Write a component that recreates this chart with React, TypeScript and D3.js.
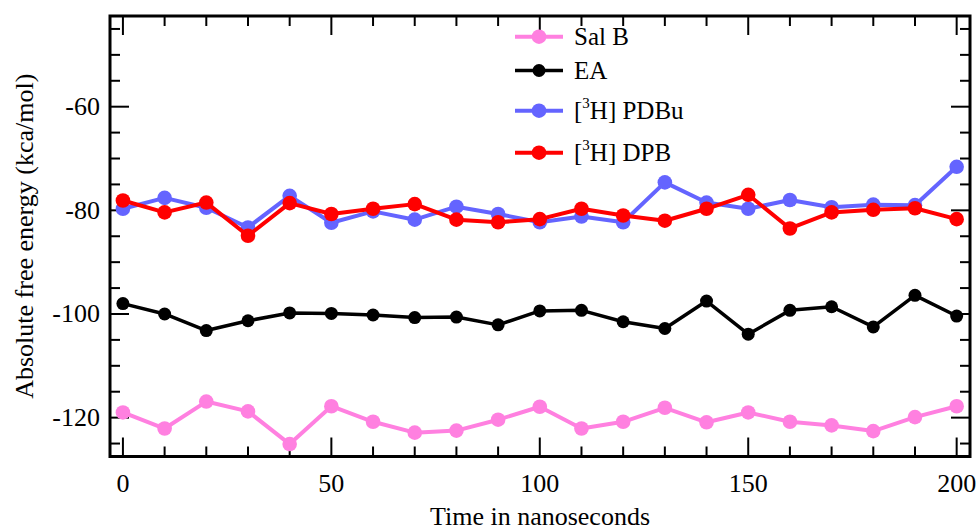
import React from "react";
import * as d3 from "d3";

const times = [0, 10, 20, 30, 40, 50, 60, 70, 80, 90, 100, 110, 120, 130, 140, 150, 160, 170, 180, 190, 200];
const salB = [-119.0, -122.1, -116.9, -118.8, -125.1, -117.8, -120.8, -122.9, -122.5, -120.4, -117.9, -122.1, -120.8, -118.1, -120.9, -119.0, -120.8, -121.5, -122.6, -119.9, -117.8];
const ea = [-98.0, -100.0, -103.2, -101.3, -99.8, -99.9, -100.2, -100.7, -100.6, -102.1, -99.4, -99.3, -101.5, -102.8, -97.5, -103.9, -99.3, -98.6, -102.5, -96.4, -100.4];
const pdbu = [-79.7, -77.6, -79.5, -83.3, -77.2, -82.4, -80.2, -81.8, -79.3, -80.7, -82.3, -81.2, -82.3, -74.6, -78.5, -79.7, -78.0, -79.4, -78.9, -79.0, -71.6];
const dpb = [-78.1, -80.4, -78.5, -84.9, -78.6, -80.7, -79.7, -78.8, -81.8, -82.3, -81.7, -79.7, -81.0, -82.0, -79.7, -77.0, -83.5, -80.4, -79.9, -79.6, -81.7];

const xMajor = [0, 50, 100, 150, 200];
const xMinor = [10, 20, 30, 40, 60, 70, 80, 90, 110, 120, 130, 140, 160, 170, 180, 190];
const yMajor = [-60, -80, -100, -120];
const yMinor = [-45, -50, -55, -65, -70, -75, -85, -90, -95, -105, -110, -115, -125];

const seriesDefs = [
  { name: "Sal B", sup: "", values: salB, color: "#ff80e0", r: 7.3, w: 4 },
  { name: "EA", sup: "", values: ea, color: "#000000", r: 6.5, w: 3.5 },
  { name: " PDBu", sup: "3", values: pdbu, color: "#6464ff", r: 7.3, w: 4 },
  { name: " DPB", sup: "3", values: dpb, color: "#ff0000", r: 7.3, w: 4 },
];

const L = 110, R = 970, T = 16, B = 456.5;
const FONT = "\"Liberation Serif\"";

export default function App() {
  const x = d3.scaleLinear().domain([-3.1, 203.2]).range([L, R]);
  const y = d3.scaleLinear().domain([-127.5, -42.5]).range([B, T]);
  const line = d3.line<[number, number]>().x(d => x(d[0])).y(d => y(d[1]));
  const legendY = [36.7, 70.5, 110.7, 152.7];
  const tickW = 2;
  const major = 19, minor = 10;
  const fs = 26;
  const ts = { fontFamily: FONT };

  return (
    <svg width={978} height={531} style={{ position: "absolute", left: 0, top: 0, background: "#fff" }}>
      <rect x={0} y={0} width={978} height={531} fill="#fff" />
      <g stroke="#000" strokeWidth={tickW}>
        {xMajor.map(v => (
          <g key={"xM" + v}>
            <line x1={x(v)} x2={x(v)} y1={B} y2={B - major} />
            <line x1={x(v)} x2={x(v)} y1={T} y2={T + major} />
          </g>
        ))}
        {xMinor.map(v => (
          <g key={"xm" + v}>
            <line x1={x(v)} x2={x(v)} y1={B} y2={B - minor} />
            <line x1={x(v)} x2={x(v)} y1={T} y2={T + minor} />
          </g>
        ))}
        {yMajor.map(v => (
          <g key={"yM" + v}>
            <line x1={L} x2={L + major} y1={y(v)} y2={y(v)} />
            <line x1={R} x2={R - major} y1={y(v)} y2={y(v)} />
          </g>
        ))}
        {yMinor.map(v => (
          <g key={"ym" + v}>
            <line x1={L} x2={L + minor} y1={y(v)} y2={y(v)} />
            <line x1={R} x2={R - minor} y1={y(v)} y2={y(v)} />
          </g>
        ))}
      </g>
      <rect x={L} y={T} width={R - L} height={B - T} fill="none" stroke="#000" strokeWidth={3} />
      {xMajor.map(v => (
        <text key={"xl" + v} x={x(v)} y={492} textAnchor="middle" fontSize={fs} style={ts}>{v}</text>
      ))}
      {yMajor.map(v => (
        <text key={"yl" + v} x={100} y={y(v) + 8.5} textAnchor="end" fontSize={fs} style={ts}>{v}</text>
      ))}
      <text x={(L + R) / 2} y={524.5} textAnchor="middle" fontSize={fs} style={ts}>Time in nanoseconds</text>
      <text transform={`translate(33, ${(T + B) / 2}) rotate(-90)`} textAnchor="middle" fontSize={fs} style={ts}>Absolute free energy (kca/mol)</text>
      {seriesDefs.map(s => {
        const pts: [number, number][] = times.map((t, i) => [t, s.values[i]]);
        return (
          <g key={s.name}>
            <path d={line(pts) || ""} fill="none" stroke={s.color} strokeWidth={s.w} strokeLinejoin="round" />
            {pts.map((p, i) => (
              <circle key={i} cx={x(p[0])} cy={y(p[1])} r={s.r} fill={s.color} />
            ))}
          </g>
        );
      })}
      {seriesDefs.map((s, i) => (
        <g key={"lg" + i}>
          <line x1={515} x2={563} y1={legendY[i]} y2={legendY[i]} stroke={s.color} strokeWidth={s.w} />
          <circle cx={539} cy={legendY[i]} r={s.r} fill={s.color} />
          <text x={574} y={legendY[i] + 8.5} fontSize={25} style={ts}>
            {s.sup ? (
              <>
                [<tspan dy={-11} fontSize={15}>{s.sup}</tspan><tspan dy={11}>H]{s.name}</tspan>
              </>
            ) : s.name}
          </text>
        </g>
      ))}
    </svg>
  );
}
